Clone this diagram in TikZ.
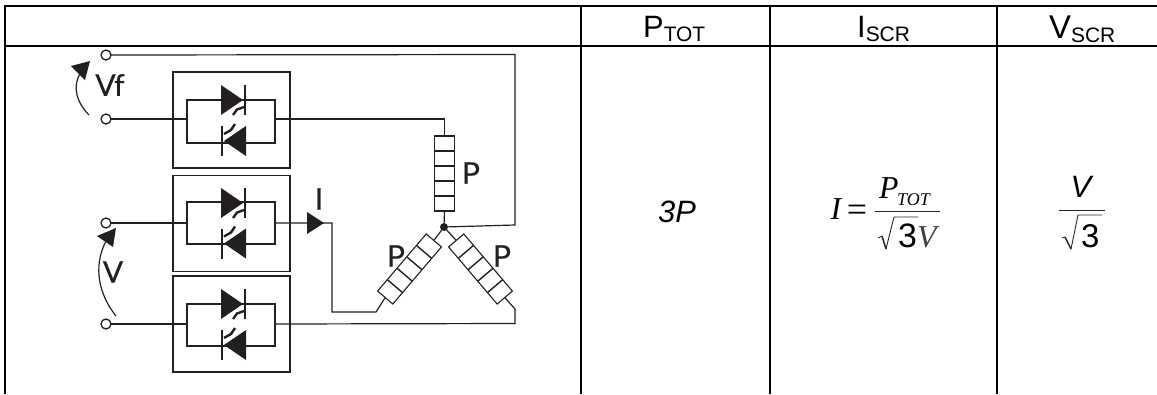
\documentclass[tikz,border=0pt]{standalone}
\usepackage{fontspec}
\setmainfont{Liberation Sans}
\newfontfamily\circfont[FakeBold=0.4]{Lato}
\newfontfamily\tmsfont{Liberation Serif}
\usetikzlibrary{calc}
\definecolor{wire}{HTML}{231F20}
\tikzset{
  tableline/.style={line width=1.7bp,black},
  wireline/.style={line width=1.2bp,wire},
  boxline/.style={line width=1.3bp,wire},
  terminal/.style={circle,draw=wire,line width=1.3bp,fill=white,minimum size=10bp,inner sep=0pt,outer sep=0pt},
  scrbox/.style={rectangle,draw=wire,line width=1.3bp,minimum width=117bp,minimum height=96bp,inner sep=0pt,outer sep=0pt},
  loadres/.style={rectangle,draw=wire,line width=1.1bp,fill=white,minimum width=20bp,minimum height=75bp,inner sep=0pt,outer sep=0pt},
  junction/.style={circle,fill=wire,minimum size=8bp,inner sep=0pt,outer sep=0pt},
  headtext/.style={font=\fontsize{31}{31}\selectfont,anchor=base west,inner sep=0pt},
  basetext/.style={anchor=base,inner sep=0pt},
  circtext/.style={font=\circfont\fontsize{30}{30}\selectfont,text=wire,inner sep=0pt,anchor=center},
  diodefill/.style={fill=wire,draw=none},
  thinrule/.style={line width=0.9bp,black!85},
}
\newcommand{\subtext}[1]{\raisebox{-4bp}{\fontsize{21}{21}\selectfont #1}}
% #1 vertical position of the upper branch, #2 of the lower branch
\newcommand{\scrpair}[2]{%
  \fill[diodefill] (221,#1-15) -- (243,#1) -- (221,#1+15) -- cycle;
  \draw[line width=2bp,wire] (245,#1-15) -- (245,#1+15);
  \draw[line width=2.4bp,wire] (244,#1+7) -- (237,#1+9.5) -- (233,#1+15);
  \fill[diodefill] (246,#2-15) -- (224,#2) -- (246,#2+15) -- cycle;
  \draw[line width=2bp,wire] (222,#2-15) -- (222,#2+15);
  \draw[line width=2.4bp,wire] (224,#2-7) -- (231,#2-11) -- (235,#2-17);
}
\begin{document}
\begin{tikzpicture}[x=1bp,y=-1bp]
\useasboundingbox (0,0) rectangle (1157,394);
\fill[white] (0,0) rectangle (1157,394);
% table
\draw[tableline] (1157,6) -- (5,6) -- (5,394);
\draw[tableline] (5,46) -- (1157,46);
\draw[tableline] (581,6) -- (581,394);
\draw[tableline] (770,6) -- (770,394);
\draw[tableline] (997,6) -- (997,394);
\node[headtext] (hp) at (643,37) {P\subtext{TOT}};
\node[headtext] (hi) at (857,37) {I\subtext{SCR}};
\node[headtext,font=\fontsize{33}{33}\selectfont] (hv) at (1049,38.5) {V\subtext{SCR}};
% terminals and boxes
\node[scrbox] (b1) at (231.5,120) {};
\node[scrbox] (b2) at (231.5,223.5) {};
\node[scrbox] (b3) at (231.5,324) {};
\coordinate (i1l) at (187,119); \coordinate (i1r) at (275,119);
\coordinate (i2l) at (187,223); \coordinate (i2r) at (275,223);
\coordinate (i3l) at (187,324); \coordinate (i3r) at (275,324);
\draw[boxline] (187,100) rectangle (275,143);
\draw[boxline] (187,202) rectangle (275,244);
\draw[boxline] (187,304) rectangle (275,346);
\scrpair{100}{141}
\scrpair{203}{243.5}
\scrpair{304}{345}
% load
\node[junction] (star) at (444,227) {};
\node[loadres] (r1) at (444.5,173.5) {};
\node[loadres,rotate=-40.4] (r2) at (409.5,269) {};
\node[loadres,rotate=40.4] (r3) at (480.5,269) {};
\foreach \rr in {r1,r2,r3}
  \foreach \k in {0.2,0.4,0.6,0.8}
    \draw[line width=1.4bp,wire] ($(\rr.north west)!\k!(\rr.south west)$) -- ($(\rr.north east)!\k!(\rr.south east)$);
% wires
\node[terminal] (t1) at (106,55) {};
\node[terminal] (t2) at (106,119) {};
\node[terminal] (t3) at (106,223) {};
\node[terminal] (t4) at (106,324) {};
\coordinate (c1) at (515,54.5);
\coordinate (c2) at (515,225);
\coordinate (c3) at (444.5,119);
\coordinate (c4) at (332,223);
\coordinate (c5) at (332,312);
\coordinate (c6) at (376,312);
\coordinate (c7) at (515,309);
\coordinate (c8) at (515,323.5);
\draw[wireline] (t1.east) -- (c1) -- (c2) -- (star);
\draw[wireline] (t2.east) -- (i1l);
\draw[wireline] (i1r) -- (c3) -- (r1.north);
\draw[wireline] (r1.south) -- (star);
\draw[wireline] (t3.east) -- (i2l);
\draw[wireline] (i2r) -- (c4) -- (c5) -- (c6) -- (r2.south);
\draw[wireline] (r2.north) -- (star);
\draw[wireline] (star) -- (r3.north);
\draw[wireline] (r3.south) -- (c7) -- (c8) -- (i3r);
\draw[wireline] (t4.east) -- (i3l);
% current arrow
\fill[diodefill] (307,212) -- (324,223) -- (307,234) -- cycle;
% voltage arrows
\coordinate (vfa) at (89,115); \coordinate (vfb) at (81,72);
\draw[wireline] (vfa) .. controls (78,104) and (71,88) .. (vfb);
\fill[diodefill] (71,66) -- (90,61) -- (85,80) -- cycle;
\coordinate (va) at (116,316); \coordinate (vb) at (106,241);
\draw[wireline] (va) .. controls (100,296) and (92,268) .. (vb);
\fill[diodefill] (97,236) -- (116,228) -- (113,247) -- cycle;
% labels
\node[circtext] (lvf) at (110,85) {V\kern-1.5bp f};
\node[circtext] (lv) at (113,272) {V};
\node[circtext] (li) at (319,199) {I};
\node[circtext] (lp1) at (471,173) {P};
\node[circtext] (lp2) at (396,256) {P};
\node[circtext] (lp3) at (502,256) {P};
% cells
\node[basetext,font=\itshape\fontsize{31}{31}\selectfont] (c3p) at (677,222) {3P};
% I = P_TOT / sqrt(3) V
\tikzset{tms/.style={basetext,font=\tmsfont\fontsize{32}{32}\selectfont}}
\node[tms,font=\tmsfont\itshape\fontsize{32}{32}\selectfont] (fi) at (836,219) {I};
\node[tms,font=\tmsfont\fontsize{36}{36}\selectfont] (feq) at (857,221) {=};
\node[tms,anchor=base west,font=\tmsfont\itshape\fontsize{32}{32}\selectfont] (fp) at (879,198) {P};
\node[tms,anchor=base west,font=\tmsfont\itshape\fontsize{18}{18}\selectfont] (ftot) at (897,205) {TOT};
\draw[thinrule] (875,211) -- (940,211);
\draw[thinrule] (878,238) -- (882,236);
\draw[line width=1.5bp,black!85] (882,236) -- (886,249);
\draw[thinrule] (886,249) -- (894,217) -- (918,217);
\node[basetext,anchor=base west,font=\fontsize{34}{34}\selectfont] (f3) at (898,247) {3};
\node[tms,anchor=base west,font=\tmsfont\itshape\fontsize{32}{32}\selectfont,text=black!75] (fv) at (917,247) {V};
% V / sqrt(3)
\node[basetext,font=\itshape\fontsize{31}{31}\selectfont] (gv) at (1081,197) {V};
\draw[thinrule] (1059,210) -- (1105,210);
\draw[thinrule] (1062,238) -- (1065,237);
\draw[line width=1.5bp,black!85] (1065,237) -- (1071,249);
\draw[thinrule] (1071,249) -- (1078,215) -- (1102,215);
\node[basetext,anchor=base west,font=\fontsize{33}{33}\selectfont] (g3) at (1081,247) {3};
\end{tikzpicture}
\end{document}
